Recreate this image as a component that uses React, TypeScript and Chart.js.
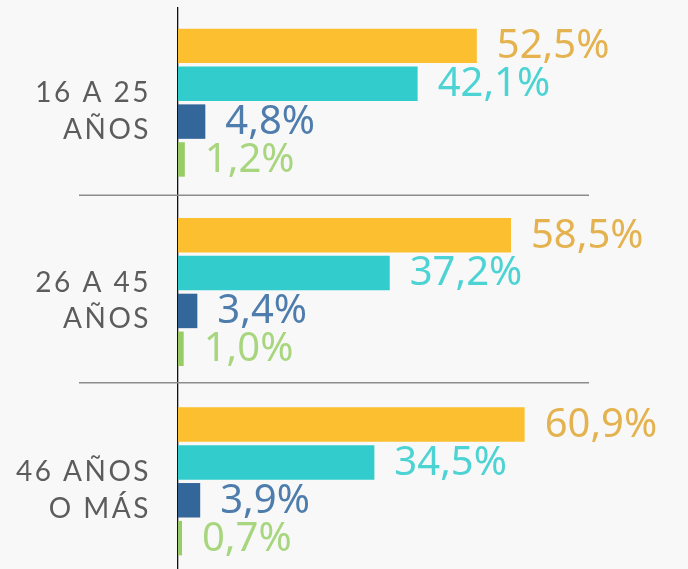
import React, { useEffect, useRef } from "react";
import { Chart, registerables } from "chart.js";

Chart.register(...registerables);

const categories: string[][] = [
  ["16 A 25", "AÑOS"],
  ["26 A 45", "AÑOS"],
  ["46 AÑOS", "O MÁS"],
];
const seriesA = [52.5, 58.5, 60.9];
const seriesB = [42.1, 37.2, 34.5];
const seriesC = [4.8, 3.4, 3.9];
const seriesD = [1.2, 1.0, 0.7];

const barColors = ["#FBBF2F", "#33CCCC", "#336699", "#99CC66"];
const labelColors = ["#E4B24E", "#4DD3D3", "#4E7DAD", "#A7D67F"];

const fmt = (v: number) => v.toFixed(1).replace(".", ",") + "%";

const spacingPlugin = {
  id: "spacing",
  beforeDraw(chart: any) {
    chart.ctx.letterSpacing = "2.5px";
  },
  beforeDatasetsDraw(chart: any) {
    chart.ctx.letterSpacing = "0px";
  },
};

const separatorPlugin = {
  id: "separators",
  afterDatasetsDraw(chart: any) {
    const ctx = chart.ctx;
    const y = chart.scales.y;
    ctx.save();
    ctx.strokeStyle = "#8c8c8c";
    ctx.lineWidth = 1.5;
    for (let i = 0; i < categories.length - 1; i++) {
      const py = (y.getPixelForValue(i) + y.getPixelForValue(i + 1)) / 2 - 2 - i * 2;
      ctx.beginPath();
      ctx.moveTo(79, py);
      ctx.lineTo(589, py);
      ctx.stroke();
    }
    ctx.restore();
  },
};

const labelPlugin = {
  id: "valueLabels",
  afterDatasetsDraw(chart: any) {
    const ctx = chart.ctx;
    ctx.save();
    ctx.letterSpacing = "0px";
    ctx.font = "40px 'Noto Sans'";
    ctx.textAlign = "left";
    ctx.textBaseline = "middle";
    chart.data.datasets.forEach((ds: any, di: number) => {
      const meta = chart.getDatasetMeta(di);
      meta.data.forEach((el: any, i: number) => {
        ctx.fillStyle = labelColors[di];
        ctx.fillText(fmt(ds.data[i]), el.x + 20, el.y + 1);
      });
    });
    ctx.restore();
  },
};

export default function App() {
  const ref = useRef<HTMLCanvasElement | null>(null);
  useEffect(() => {
    if (!ref.current) return;
    const chart = new Chart(ref.current, {
      type: "bar",
      data: {
        labels: categories,
        datasets: [seriesA, seriesB, seriesC, seriesD].map((d, i) => ({
          data: d,
          backgroundColor: barColors[i],
          borderWidth: 0,
          categoryPercentage: 0.8,
          barPercentage: 0.91,
        })),
      },
      options: {
        indexAxis: "y",
        responsive: false,
        animation: false,
        layout: { padding: { top: 8, bottom: 0, left: 0, right: 0 } },
        plugins: {
          legend: { display: false },
          tooltip: { enabled: false },
        },
        scales: {
          x: { display: false, min: 0, max: 89.6 },
          y: {
            grid: { display: false, drawTicks: false },
            border: { display: true, color: "#111111", width: 1.3 },
            ticks: {
              color: "#5c5c5c",
              font: { family: "Lato", size: 28, lineHeight: 1.31 },
              padding: 27,
              labelOffset: 9,
            },
            afterFit(scale: any) {
              scale.width = 178;
              scale.paddingTop = 0;
              scale.paddingBottom = 0;
            },
          },
        },
      },
      plugins: [spacingPlugin, separatorPlugin, labelPlugin],
    } as any);
    return () => chart.destroy();
  }, []);
  return (
    <div
      style={{
        position: "fixed",
        left: 0,
        top: 0,
        width: 688,
        height: 569,
        overflow: "hidden",
        background: "#f8f8f8",
      }}
    >
      <canvas ref={ref} width={688} height={576} style={{ display: "block" }} />
    </div>
  );
}
